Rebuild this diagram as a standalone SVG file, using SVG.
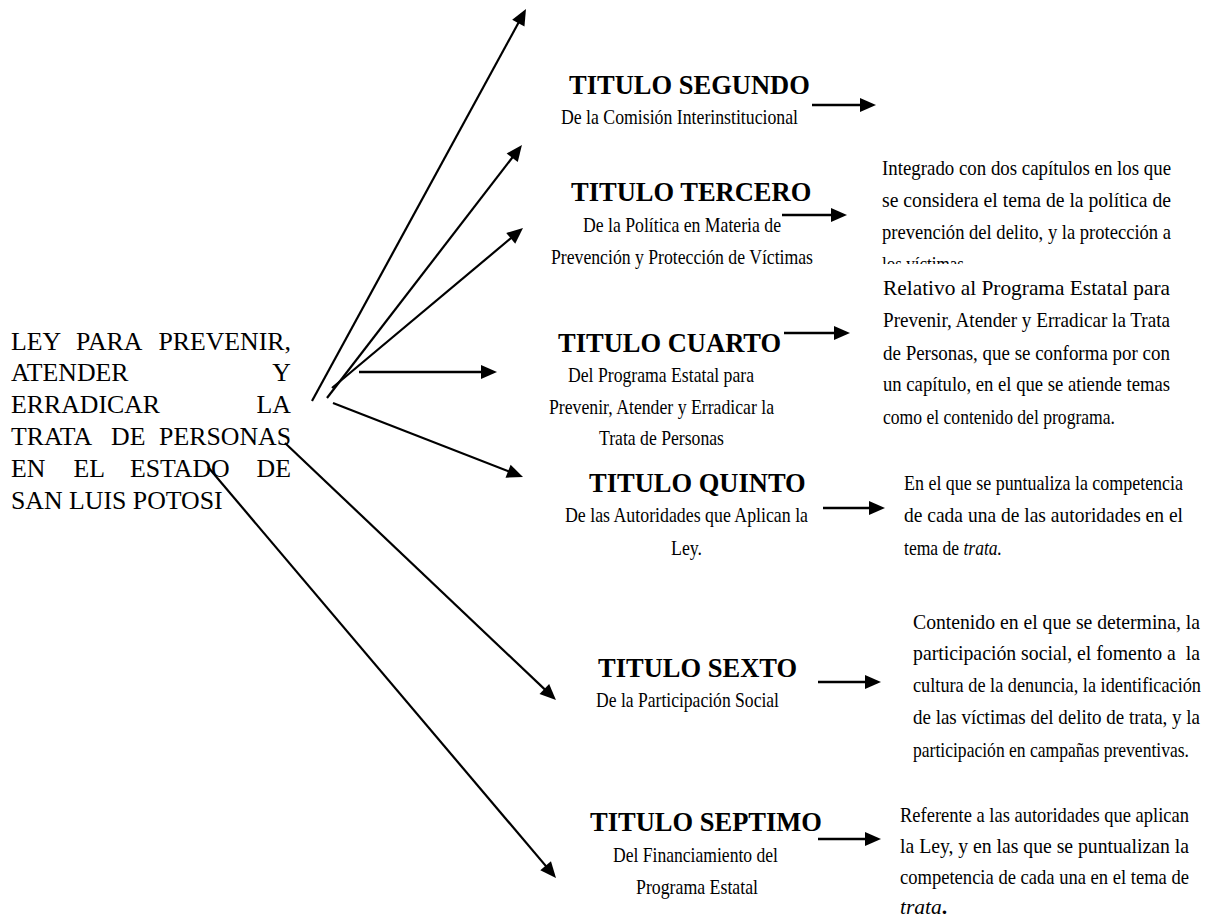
<svg xmlns="http://www.w3.org/2000/svg" width="1215" height="920" viewBox="0 0 1215 920">
<style>
.t{font-family:'Liberation Serif','Times New Roman','DejaVu Serif',serif;fill:#000}
.ley{font-size:25.8px}
.h{font-size:26.5px;font-weight:bold}
.s{font-size:21.5px}
.p{font-size:21.5px}
.end{text-anchor:end}
.ln{stroke:#000;stroke-width:2.2;fill:none;marker-end:url(#ah)}
.hl{stroke:#000;stroke-width:2.6;fill:none;marker-end:url(#ah)}
</style>
<defs>
<marker id="ah" markerUnits="userSpaceOnUse" markerWidth="16" markerHeight="14" refX="10" refY="7" orient="auto" overflow="visible">
<path d="M0,0 L16,7 L0,14 z" fill="#000"/>
</marker>
<clipPath id="clipP1"><rect x="870" y="240" width="320" height="24"/></clipPath>
</defs>
<rect width="1215" height="920" fill="#fff"/>

<g id="ley">
<text class="t ley" x="11" y="350">LEY</text>
<text class="t ley" x="76" y="350">PARA</text>
<text class="t ley end" x="291" y="350">PREVENIR,</text>
<text class="t ley" x="11" y="381">ATENDER</text>
<text class="t ley end" x="291" y="381">Y</text>
<text class="t ley" x="11" y="413">ERRADICAR</text>
<text class="t ley end" x="291" y="413">LA</text>
<text class="t ley" x="11" y="445">TRATA</text>
<text class="t ley" x="111" y="445">DE</text>
<text class="t ley end" x="291" y="445">PERSONAS</text>
<text class="t ley" x="11" y="477">EN</text>
<text class="t ley" x="73.5" y="477">EL</text>
<text class="t ley" x="130" y="477">ESTADO</text>
<text class="t ley end" x="291" y="477">DE</text>
<text class="t ley" x="11" y="509">SAN LUIS POTOSI</text>
</g>

<g id="titulo-segundo">
<text class="t h" x="569" y="94">TITULO SEGUNDO</text>
<text class="t s" x="561" y="124" textLength="237" lengthAdjust="spacingAndGlyphs">De la Comisión Interinstitucional</text>
</g>

<g id="titulo-tercero">
<text class="t h" x="571" y="201">TITULO TERCERO</text>
<text class="t s" x="583" y="232" textLength="198" lengthAdjust="spacingAndGlyphs">De la Política en Materia de</text>
<text class="t s" x="551" y="264" textLength="262" lengthAdjust="spacingAndGlyphs">Prevención y Protección de Víctimas</text>
</g>

<g id="desc-tercero">
<text class="t p" x="882" y="175" textLength="289" lengthAdjust="spacingAndGlyphs">Integrado con dos capítulos en los que</text>
<text class="t p" x="882" y="207" textLength="289" lengthAdjust="spacingAndGlyphs">se considera el tema de la política de</text>
<text class="t p" x="882" y="239" textLength="289" lengthAdjust="spacingAndGlyphs">prevención del delito, y la protección a</text>
<text class="t p" x="882" y="271" textLength="82" lengthAdjust="spacingAndGlyphs" clip-path="url(#clipP1)">los víctimas</text>
</g>

<g id="titulo-cuarto">
<text class="t h" x="558" y="352">TITULO CUARTO</text>
<text class="t s" x="568" y="382" textLength="186" lengthAdjust="spacingAndGlyphs">Del Programa Estatal para</text>
<text class="t s" x="549" y="414" textLength="225" lengthAdjust="spacingAndGlyphs">Prevenir, Atender y Erradicar la</text>
<text class="t s" x="599" y="445" textLength="125" lengthAdjust="spacingAndGlyphs">Trata de Personas</text>
</g>

<g id="desc-cuarto">
<text class="t p" x="883" y="295" textLength="287" lengthAdjust="spacingAndGlyphs">Relativo al Programa Estatal para</text>
<text class="t p" x="883" y="327" textLength="287" lengthAdjust="spacingAndGlyphs">Prevenir, Atender y Erradicar la Trata</text>
<text class="t p" x="883" y="360" textLength="287" lengthAdjust="spacingAndGlyphs">de Personas, que se conforma por con</text>
<text class="t p" x="883" y="391" textLength="287" lengthAdjust="spacingAndGlyphs">un capítulo, en el que se atiende temas</text>
<text class="t p" x="883" y="424" textLength="232" lengthAdjust="spacingAndGlyphs">como el contenido del programa.</text>
</g>

<g id="titulo-quinto">
<text class="t h" x="589" y="492">TITULO QUINTO</text>
<text class="t s" x="565" y="522" textLength="243" lengthAdjust="spacingAndGlyphs">De las Autoridades que Aplican la</text>
<text class="t s" x="671" y="555" textLength="31" lengthAdjust="spacingAndGlyphs">Ley.</text>
</g>

<g id="desc-quinto">
<text class="t p" x="904" y="490" textLength="279" lengthAdjust="spacingAndGlyphs">En el que se puntualiza la competencia</text>
<text class="t p" x="904" y="522" textLength="279" lengthAdjust="spacingAndGlyphs">de cada una de las autoridades en el</text>
<text class="t p" x="904" y="555" textLength="98" lengthAdjust="spacingAndGlyphs">tema de <tspan font-style="italic">trata.</tspan></text>
</g>

<g id="titulo-sexto">
<text class="t h" x="598" y="677">TITULO SEXTO</text>
<text class="t s" x="596" y="707" textLength="183" lengthAdjust="spacingAndGlyphs">De la Participación Social</text>
</g>

<g id="desc-sexto">
<text class="t p" x="913" y="629" textLength="287" lengthAdjust="spacingAndGlyphs">Contenido en el que se determina, la</text>
<text class="t p" x="913" y="660" textLength="287" lengthAdjust="spacingAndGlyphs" xml:space="preserve">participación social, el fomento a  la</text>
<text class="t p" x="913" y="692" textLength="288" lengthAdjust="spacingAndGlyphs">cultura de la denuncia, la identificación</text>
<text class="t p" x="913" y="724" textLength="287" lengthAdjust="spacingAndGlyphs">de las víctimas del delito de trata, y la</text>
<text class="t p" x="913" y="757" textLength="276" lengthAdjust="spacingAndGlyphs">participación en campañas preventivas.</text>
</g>

<g id="titulo-septimo">
<text class="t h" x="590" y="831">TITULO SEPTIMO</text>
<text class="t s" x="613" y="862" textLength="165" lengthAdjust="spacingAndGlyphs">Del Financiamiento del</text>
<text class="t s" x="636" y="894" textLength="122" lengthAdjust="spacingAndGlyphs">Programa Estatal</text>
</g>

<g id="desc-septimo">
<text class="t p" x="900" y="822" textLength="289" lengthAdjust="spacingAndGlyphs">Referente a las autoridades que aplican</text>
<text class="t p" x="900" y="853" textLength="289" lengthAdjust="spacingAndGlyphs">la Ley, y en las que se puntualizan la</text>
<text class="t p" x="900" y="884" textLength="289" lengthAdjust="spacingAndGlyphs">competencia de cada una en el tema de</text>
<text class="t p" x="900" y="914" font-style="italic">trata<tspan font-style="normal" font-weight="bold">.</tspan></text>
</g>

<g id="connectors">
<line class="ln" x1="312" y1="401" x2="523.1" y2="14.3"/>
<line class="ln" x1="327" y1="398" x2="518.3" y2="149.8"/>
<line class="ln" x1="332" y1="388" x2="518.4" y2="231.9"/>
<line class="hl" x1="359" y1="372" x2="491" y2="372"/>
<line class="ln" x1="333" y1="403" x2="517.4" y2="474.8"/>
<line class="ln" x1="285" y1="443" x2="551.6" y2="695.9"/>
<line class="ln" x1="208" y1="467" x2="552.1" y2="873.4"/>
<line class="hl" x1="812" y1="105" x2="870" y2="105"/>
<line class="hl" x1="782" y1="215" x2="841" y2="215"/>
<line class="hl" x1="784" y1="333" x2="844" y2="333"/>
<line class="hl" x1="823" y1="508" x2="879" y2="508"/>
<line class="hl" x1="818" y1="682" x2="875" y2="682"/>
<line class="hl" x1="818" y1="839" x2="875" y2="839"/>
</g>
</svg>
